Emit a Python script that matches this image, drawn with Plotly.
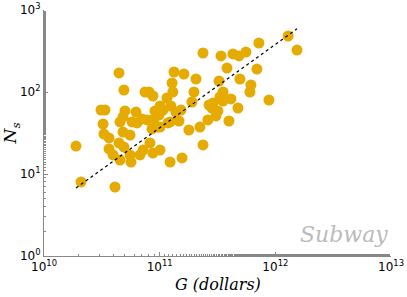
import numpy as np
import plotly.graph_objects as go

# GDP G (dollars) and number of subway stations N_s
G = [1.89e10, 2.09e10, 3.11e10, 3.37e10, 3.24e10, 3.30e10, 3.65e10, 3.65e10,
     3.95e10, 4.11e10, 4.45e10, 4.91e10, 4.54e10, 4.45e10, 4.91e10, 4.54e10,
     4.82e10, 5.54e10, 5.54e10, 5.65e10, 5.01e10, 4.82e10, 5.77e10, 6.24e10,
     6.37e10, 6.76e10, 7.18e10, 7.04e10, 7.47e10, 8.09e10, 8.75e10, 7.77e10,
     8.24e10, 8.58e10, 8.75e10, 8.93e10, 9.48e10, 9.11e10, 9.86e10, 1.007e11,
     1.007e11, 1.007e11, 1.07e11, 1.156e11, 1.18e11, 1.23e11, 1.23e11, 1.25e11,
     1.28e11, 1.33e11, 1.30e11, 1.38e11, 1.47e11, 1.53e11, 1.56e11, 1.62e11,
     1.79e11, 1.90e11, 1.98e11, 2.06e11, 2.23e11, 2.37e11, 2.37e11, 2.61e11,
     2.67e11, 2.83e11, 2.89e11, 3.07e11, 3.19e11, 3.26e11, 3.32e11, 3.53e11,
     3.53e11, 3.39e11, 3.82e11, 3.97e11, 4.13e11, 4.30e11, 4.75e11, 4.85e11,
     4.94e11, 5.57e11, 6.03e11, 6.15e11, 6.93e11, 7.21e11, 8.81e11, 1.29e12,
     1.54e12]
Ns = [21.9, 8.0, 60.3, 60.3, 40.7, 30.7, 27.5, 20.2,
      17.1, 6.94, 170.6, 105.8, 43.1, 23.9, 21.3, 14.8,
      32.5, 29.9, 17.1, 14.0, 58.7, 49.6, 43.1, 57.0,
      41.9, 17.1, 19.6, 46.9, 100.0, 100.0, 89.4, 45.6,
      23.9, 35.4, 18.0, 46.9, 37.4, 58.7, 52.4, 67.5,
      19.6, 37.4, 60.3, 84.5, 41.9, 43.1, 14.0, 67.5,
      128.8, 175.4, 100.0, 57.0, 44.3, 60.3, 15.7, 165.8,
      34.4, 75.5, 100.0, 144.0, 37.4, 299.0, 22.6, 45.6,
      69.4, 63.8, 73.4, 51.0, 58.7, 136.0, 86.9, 77.6,
      100.0, 275.0, 196.0, 44.3, 82.2, 291.0, 63.8, 275.0,
      144.0, 307.0, 100.0, 121.7, 190.6, 396.0, 79.9, 482.0,
      325.0]

# power-law fit: log10(Ns) = FIT_SLOPE * log10(G) + FIT_INTERCEPT
FIT_SLOPE = 1.016
FIT_INTERCEPT = -9.612

# tick labels
X_TICKS = [1e10, 1e11, 1e12, 1e13]
X_TICK_TEXT = ["10<sup>10</sup>", "10<sup>11</sup>", "10<sup>12</sup>", "10<sup>13</sup>"]
Y_TICKS = [1, 10, 100, 1000]
Y_TICK_TEXT = ["10<sup>0</sup>", "10<sup>1</sup>", "10<sup>2</sup>", "10<sup>3</sup>"]

lx = np.log10([min(G), max(G)])
fit_x = 10 ** lx
fit_y = 10 ** (FIT_SLOPE * lx + FIT_INTERCEPT)

fig = go.Figure()
fig.add_trace(go.Scatter(
    x=G, y=Ns, mode="markers",
    marker=dict(size=11, color="#E6AB02", line=dict(width=0)),
    showlegend=False,
))
fig.add_trace(go.Scatter(
    x=fit_x, y=fit_y, mode="lines",
    line=dict(color="black", width=1.2, dash="dot"),
    showlegend=False,
))

axis_common = dict(
    type="log", showgrid=False, automargin=False,
    showline=True, linecolor="#888888", linewidth=1,
    ticks="inside", ticklen=4, tickcolor="#888888",
    minor=dict(ticks="inside", ticklen=2, tickcolor="#888888", showgrid=False),
    tickfont=dict(family="DejaVu Sans", size=12, color="black"),
    zeroline=False, mirror=False,
)

fig.update_xaxes(range=[10, 13], tickvals=X_TICKS, ticktext=X_TICK_TEXT,
                 **axis_common)
fig.update_yaxes(range=[0, 3], tickvals=Y_TICKS, ticktext=Y_TICK_TEXT,
                 title=dict(text="<i>N<sub>s</sub></i>",
                            font=dict(family="DejaVu Serif", size=17, color="black"),
                            standoff=6), **axis_common)

fig.add_annotation(
    text="<i>G (dollars)</i>", xref="paper", yref="paper", x=0.5, y=-0.115,
    xanchor="center", yanchor="middle", showarrow=False,
    font=dict(family="DejaVu Serif", size=16, color="black"),
)
fig.add_annotation(
    text="<i>Subway</i>", xref="paper", yref="paper", x=0.997, y=0.03,
    xanchor="right", yanchor="bottom", showarrow=False,
    font=dict(family="DejaVu Serif", size=22, color="#BBBBBB"),
)

fig.update_layout(
    width=407, height=297,
    margin=dict(l=44, r=16, t=10, b=41, autoexpand=False),
    plot_bgcolor="white", paper_bgcolor="white",
)

fig.write_html("out.html",
               config={"displayModeBar": False},
               post_script="document.body.style.margin='0';document.body.style.overflow='hidden';")
